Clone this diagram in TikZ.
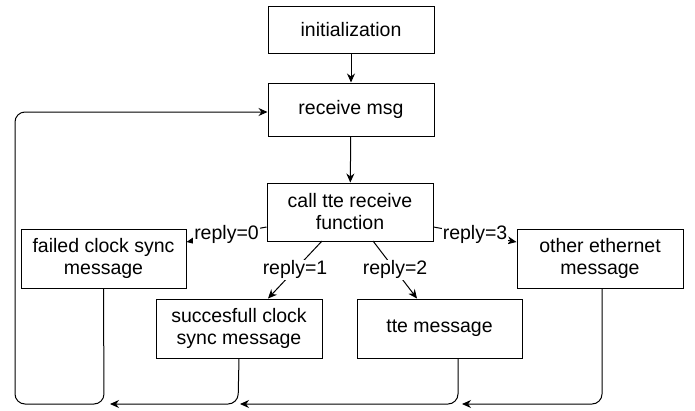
\documentclass[tikz,border=0pt]{standalone}
\usepackage{fontspec}
\setmainfont{Liberation Sans}
\usetikzlibrary{arrows.meta}
\begin{document}
\begin{tikzpicture}[x=1pt,y=-1pt,
  box/.style={draw, line width=1pt, rectangle, align=center, inner sep=0pt,
    font=\fontsize{19.5}{22}\selectfont},
  conn/.style={line width=1pt, -{Stealth[length=9pt,width=8pt]}},
  lbl/.style={fill=white, inner sep=1pt, font=\fontsize{19.5}{22}\selectfont}]
\useasboundingbox (0,0) rectangle (695,410);
\node[box, minimum width=166pt, minimum height=47pt] (init) at (351,29.5) {initialization};
\node[box, minimum width=166pt, minimum height=53pt] (recv) at (351,109.5) {receive msg};
\node[box, minimum width=166pt, minimum height=58pt] (call) at (350,212) {call tte receive\\function};
\node[box, minimum width=165pt, minimum height=59pt] (failed) at (103.5,258.5) {failed clock sync\\message};
\node[box, minimum width=166pt, minimum height=59pt] (succ) at (239,328.5) {succesfull clock\\sync message};
\node[box, minimum width=165pt, minimum height=59pt] (tte) at (439.5,328.5) {tte message};
\node[box, minimum width=166pt, minimum height=59pt] (other) at (600,258.5) {other ethernet\\message};

\coordinate (s1) at (110,404);
\coordinate (s2) at (240,404);
\coordinate (s3) at (462,404);

\draw[conn] (init) -- (recv);
\draw[conn] (recv) -- (call);
\draw[conn] (call.west |- 0,227) -- node[lbl] {reply=0} (failed.east |- 0,242);
\draw[conn] (322,241) -- node[lbl] {reply=1} (succ.north -| 268,0);
\draw[conn] (373,241) -- node[lbl] {reply=2} (tte.north -| 417,0);
\draw[conn] (call.east |- 0,227) -- node[lbl] {reply=3} (other.west |- 0,242);

\draw[conn, rounded corners=10pt] (failed.south) -- (104,404) -- (15,404) -- (15,112) -- (recv.west |- 0,112);
\draw[conn, rounded corners=10pt] (succ.south) -- (238,404) -- (s1);
\draw[conn, rounded corners=10pt] (tte.south -| 458,0) -- (458,404) -- (s2);
\draw[conn, rounded corners=10pt] (other.south -| 602,0) -- (602,404) -- (s3);
\end{tikzpicture}
\end{document}
